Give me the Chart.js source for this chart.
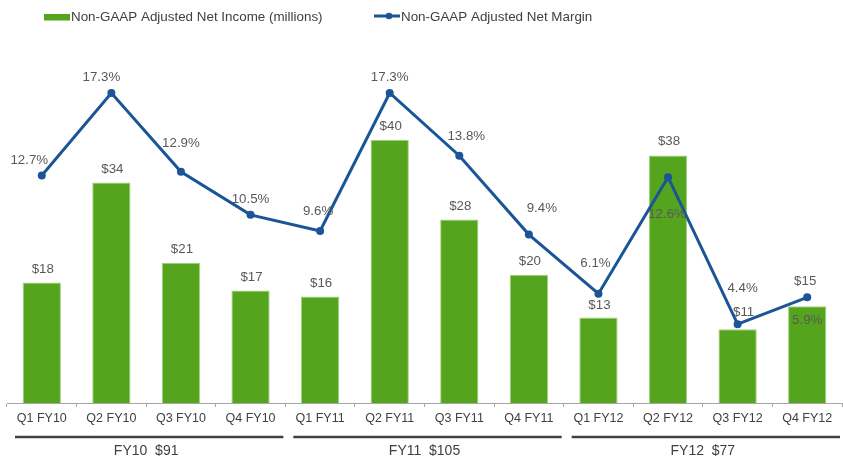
<!DOCTYPE html>
<html><head><meta charset="utf-8">
<script src="https://cdn.jsdelivr.net/npm/chart.js@4.4.1/dist/chart.umd.min.js"></script>
<style>html,body{margin:0;padding:0;overflow:hidden;background:#fff;width:843px;height:462px}canvas{display:block}</style>
</head><body>
<canvas id="c" width="846" height="462"></canvas>
<script>
// ---- data ----
const categories = ['Q1 FY10','Q2 FY10','Q3 FY10','Q4 FY10','Q1 FY11','Q2 FY11','Q3 FY11','Q4 FY11','Q1 FY12','Q2 FY12','Q3 FY12','Q4 FY12'];
const incomeMillions = [18.3, 33.5, 21.3, 17.1, 16.2, 40.0, 27.9, 19.5, 13.0, 37.6, 11.2, 14.7];
const marginPct = [12.7, 17.3, 12.9, 10.5, 9.6, 17.3, 13.8, 9.4, 6.1, 12.6, 4.4, 5.9];
const fiscalYears = ['FY10','FY11','FY12'];
const fiscalTotals = [91, 105, 77];
const quartersPerYear = 4;
const seriesNames = ['Non-GAAP Adjusted Net Income (millions)','Non-GAAP Adjusted Net Margin'];

// ---- styles / label nudges ----
const GREEN = '#54A41D', GREEN_EDGE = '#A3D27C', BLUE = '#1B5598', TXT = '#595959', DARK = '#404040';
const FONT = '"Liberation Sans", Arial, Helvetica, sans-serif';
const incomeLabelOffsets = [[1,-13.5],[1,-13.5],[1,-13.5],[1,-13.5],[1,-13.5],[1,-13.5],[1,-13.5],[1,-13.5],[1,-12.5],[1,-14],[6,-16.5],[-2,-25]];
const marginLabelOffsets = [[-12.5,-15.5],[-10,-16],[0,-29],[0,-16],[-2,-20],[0,-16],[7,-19],[13,-26],[-3,-30],[-1,37],[5,-36],[0,23]];

const overlay = {
  id: 'overlay',
  afterDatasetsDraw(chart) {
    const ctx = chart.ctx;
    const barMeta = chart.getDatasetMeta(0), lineMeta = chart.getDatasetMeta(1);
    ctx.save();
    ctx.font = '13.3px ' + FONT;
    ctx.fillStyle = TXT; ctx.textAlign = 'center'; ctx.textBaseline = 'middle';
    barMeta.data.forEach((bar, i) => {
      const [dx, dy] = incomeLabelOffsets[i];
      ctx.fillText('$' + Math.round(incomeMillions[i]), bar.x + dx, bar.y + dy);
    });
    lineMeta.data.forEach((pt, i) => {
      const [dx, dy] = marginLabelOffsets[i];
      ctx.fillText(marginPct[i].toFixed(1) + '%', pt.x + dx, pt.y + dy);
    });
    ctx.restore();
  },
  afterDraw(chart) {
    const ctx = chart.ctx, xs = chart.scales.x;
    const w = (xs.right - xs.left) / categories.length;
    ctx.save();
    // fiscal year groups
    fiscalYears.forEach((fy, g) => {
      const a = xs.getPixelForValue(g * quartersPerYear) - w / 2;
      const b = xs.getPixelForValue(g * quartersPerYear + quartersPerYear - 1) + w / 2;
      ctx.strokeStyle = DARK; ctx.lineWidth = 2.5;
      ctx.beginPath(); ctx.moveTo(a + 8, 437); ctx.lineTo(b - 2, 437); ctx.stroke();
      ctx.fillStyle = DARK; ctx.font = '14px ' + FONT; ctx.textAlign = 'center'; ctx.textBaseline = 'middle';
      ctx.fillText(fy + '  $' + fiscalTotals[g], (a + b) / 2, 451);
    });
    // legend
    ctx.font = '13.4px ' + FONT; ctx.textAlign = 'left'; ctx.textBaseline = 'middle';
    ctx.fillStyle = GREEN; ctx.fillRect(44, 14, 26, 6.5);
    ctx.fillStyle = DARK; ctx.fillText(seriesNames[0], 71, 17);
    ctx.strokeStyle = BLUE; ctx.lineWidth = 3;
    ctx.beginPath(); ctx.moveTo(374, 16); ctx.lineTo(400, 16); ctx.stroke();
    ctx.fillStyle = BLUE; ctx.beginPath(); ctx.arc(389, 16, 3.3, 0, Math.PI * 2); ctx.fill();
    ctx.fillStyle = DARK; ctx.fillText(seriesNames[1], 401, 17);
    ctx.restore();
  }
};

new Chart(document.getElementById('c'), {
  type: 'bar',
  data: {
    labels: categories,
    datasets: [
      { type: 'bar', label: seriesNames[0], data: incomeMillions, backgroundColor: GREEN, borderColor: GREEN_EDGE,
        borderWidth: 1, barPercentage: 0.55, categoryPercentage: 1, yAxisID: 'y', order: 2 },
      { type: 'line', label: seriesNames[1], data: marginPct, borderColor: BLUE, backgroundColor: BLUE,
        borderWidth: 3, pointRadius: 4, pointHoverRadius: 4, pointBorderWidth: 0, tension: 0, yAxisID: 'y1', order: 1 }
    ]
  },
  options: {
    responsive: false, animation: false, devicePixelRatio: 1,
    layout: { padding: { top: 74, left: 7, right: 2, bottom: 0 } },
    plugins: { legend: { display: false }, tooltip: { enabled: false } },
    events: [],
    scales: {
      x: {
        offset: true,
        grid: { display: true, offset: true, drawOnChartArea: false, drawTicks: true, tickLength: 4, color: '#A6A6A6', lineWidth: 1 },
        border: { display: true, color: '#A6A6A6', width: 1 },
        ticks: { color: DARK, font: { family: FONT, size: 12.5 }, padding: 4, maxRotation: 0, autoSkip: false },
        afterFit(s) { s.height = 59; }
      },
      y: { display: false, min: 0, max: 50 },
      y1: { display: false, min: 0, max: 18.36, position: 'right' }
    }
  },
  plugins: [overlay]
});
</script>
</body></html>
